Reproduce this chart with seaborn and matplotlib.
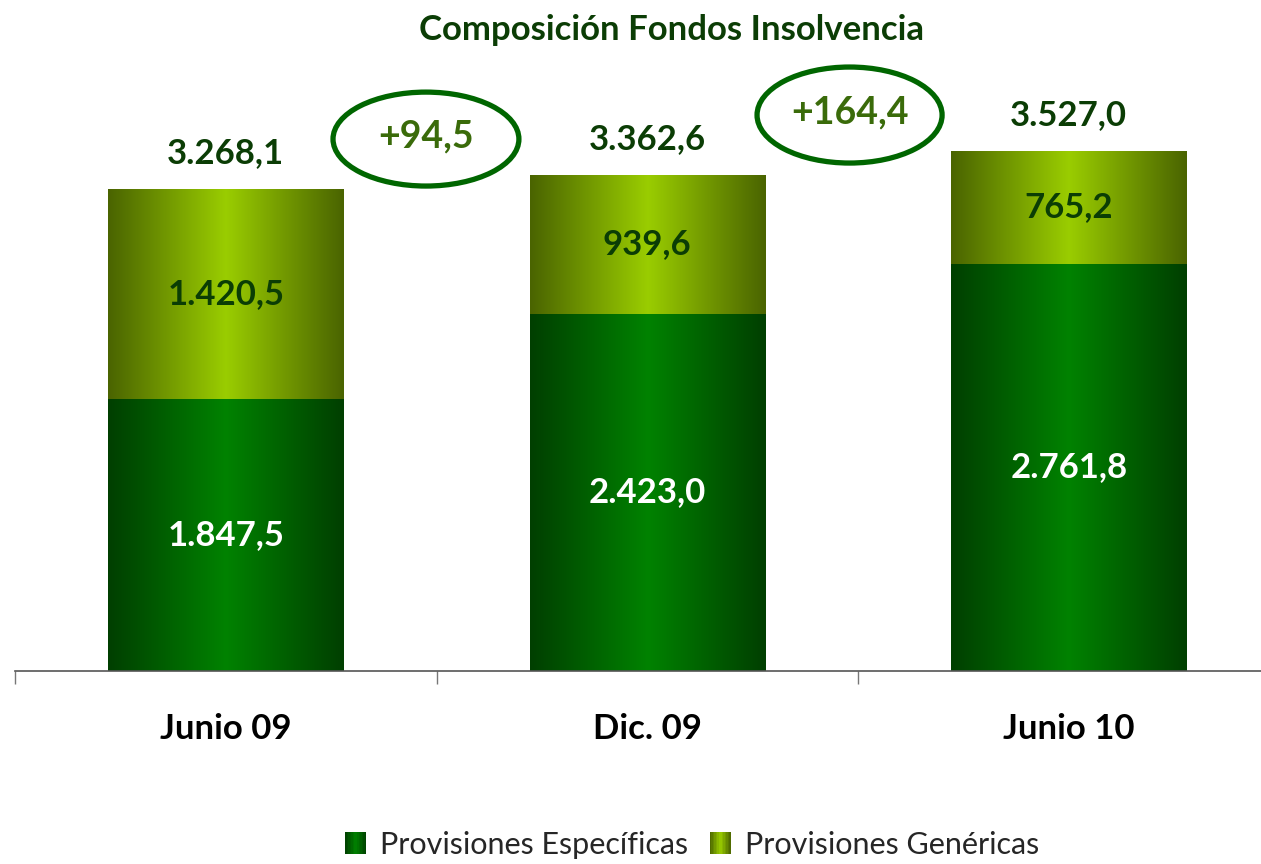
import numpy as np
import pandas as pd
import matplotlib
matplotlib.use("Agg")
import matplotlib.pyplot as plt
import seaborn as sns
from matplotlib.patches import Ellipse, Rectangle
from matplotlib.legend_handler import HandlerBase
from matplotlib.colors import LinearSegmentedColormap

# ---------------- data ----------------
categories = ["Junio 09", "Dic. 09", "Junio 10"]
especificas = [1847.5, 2423.0, 2761.8]
genericas = [1420.5, 939.6, 765.2]
totales = [3268.1, 3362.6, 3527.0]
series_names = ["Provisiones Específicas", "Provisiones Genéricas"]
title = "Composición Fondos Insolvencia"

# ---------------- style ----------------
ESP_EDGE, ESP_CENTER = "#003f00", "#008200"
GEN_EDGE, GEN_CENTER = "#4a6400", "#9acd00"
DARK_TXT = "#0b3d05"
ELL_EDGE = "#006600"
ELL_TXT = "#3a6b0a"


def fmt_es(v, sign=False):
    s = f"{v:,.1f}".replace(",", "X").replace(".", ",").replace("X", ".")
    return ("+" + s) if sign else s


sns.set_theme(style="white")
plt.rcParams["font.family"] = ["Lato", "DejaVu Sans"]

W, H = 1261, 864
fig = plt.figure(figsize=(W / 100, H / 100), dpi=100)
PX = 0.14747          # pixels per unit
YMAX = 4000
ax = fig.add_axes([15 / W, 193 / H, 1264.5 / W, YMAX * PX / H])

df = pd.DataFrame({"cat": categories, "esp": especificas, "tot": totales})
sns.barplot(data=df, x="cat", y="tot", color=GEN_CENTER, width=0.558,
            saturation=1, ax=ax)
sns.barplot(data=df, x="cat", y="esp", color=ESP_CENTER, width=0.558,
            saturation=1, ax=ax)

esp_cmap = LinearSegmentedColormap.from_list("esp", [ESP_EDGE, ESP_CENTER, ESP_EDGE])
gen_cmap = LinearSegmentedColormap.from_list("gen", [GEN_EDGE, GEN_CENTER, GEN_EDGE])
grad = np.linspace(0, 1, 256).reshape(1, -1)

n = len(categories)
for i, p in enumerate(list(ax.patches)):
    is_esp = i >= n
    cmap = esp_cmap if is_esp else gen_cmap
    x0, y0 = p.get_x(), p.get_y()
    w, h = p.get_width(), p.get_height()
    im = ax.imshow(grad, cmap=cmap, extent=[x0, x0 + w, y0, y0 + h],
                   aspect="auto", interpolation="bilinear",
                   zorder=2 if is_esp else 1)
    im.set_clip_path(p)
    p.set_facecolor("none")
    p.set_edgecolor("none")

ax.set_xlim(-0.5, 2.5)
ax.set_ylim(0, YMAX)

# value labels
LBL = 25
for i in range(n):
    ax.text(i, especificas[i] / 2, fmt_es(especificas[i]), ha="center", va="center",
            color="white", fontsize=LBL, fontweight="bold", zorder=5)
    ax.text(i, especificas[i] + genericas[i] / 2, fmt_es(genericas[i]), ha="center",
            va="center", color=DARK_TXT, fontsize=LBL, fontweight="bold", zorder=5)
    ax.annotate(fmt_es(totales[i]), (i, totales[i]), xytext=(0, 26),
                textcoords="offset points", ha="center", va="center",
                color=DARK_TXT, fontsize=LBL, fontweight="bold", zorder=5)

# difference ellipses
ell_layout = [(0.475, 3607, 0.441, 637), (1.48, 3770, 0.439, 651)]
for k, (ex, ey, ew, eh) in enumerate(ell_layout):
    diff = totales[k + 1] - totales[k]
    ax.add_patch(Ellipse((ex, ey), ew, eh, facecolor="none", edgecolor=ELL_EDGE,
                         linewidth=3.8, zorder=6, clip_on=False))
    ax.text(ex, ey + 15, fmt_es(diff, sign=True), ha="center", va="center",
            color=ELL_TXT, fontsize=27, fontweight="bold", zorder=7)

# axes styling
for s in ["left", "top", "right"]:
    ax.spines[s].set_visible(False)
ax.spines["bottom"].set_color("#555555")
ax.spines["bottom"].set_linewidth(1.2)
ax.set_yticks([])
ax.set_xlabel("")
ax.set_ylabel("")
ax.set_xticks(range(n))
ax.set_xticklabels(categories, fontsize=25, fontweight="bold", color="black")
ax.tick_params(axis="x", which="major", bottom=True, length=0, pad=30)
ax.set_xticks([-0.5, 0.5, 1.5], minor=True)
ax.tick_params(axis="x", which="minor", bottom=True, length=9, width=1,
               color="#777777", direction="out")

fig.text(671.5 / W, 1 - 30 / H, title, ha="center", va="center",
         fontsize=25, fontweight="bold", color=DARK_TXT)


# legend with gradient squares
class GradHandler(HandlerBase):
    def __init__(self, cmap):
        super().__init__()
        self.cmap = cmap

    def create_artists(self, legend, orig_handle, xdescent, ydescent, width,
                       height, fontsize, trans):
        arts = []
        m = 14
        for k in range(m):
            r = Rectangle((-xdescent + k * width / m, -ydescent), width / m * 1.05,
                          height, facecolor=self.cmap((k + 0.5) / m),
                          edgecolor="none", transform=trans)
            arts.append(r)
        return arts


h_esp = Rectangle((0, 0), 1, 1)
h_gen = Rectangle((0, 0), 1, 1)
fig.legend([h_esp, h_gen], series_names, loc="center",
           bbox_to_anchor=(692 / W, 1 - 845 / H), ncol=2, frameon=False,
           fontsize=22, handlelength=0.7, handleheight=0.72, handletextpad=0.45,
           columnspacing=0.7,
           handler_map={h_esp: GradHandler(esp_cmap), h_gen: GradHandler(gen_cmap)})

fig.savefig("out.png", dpi=100)
